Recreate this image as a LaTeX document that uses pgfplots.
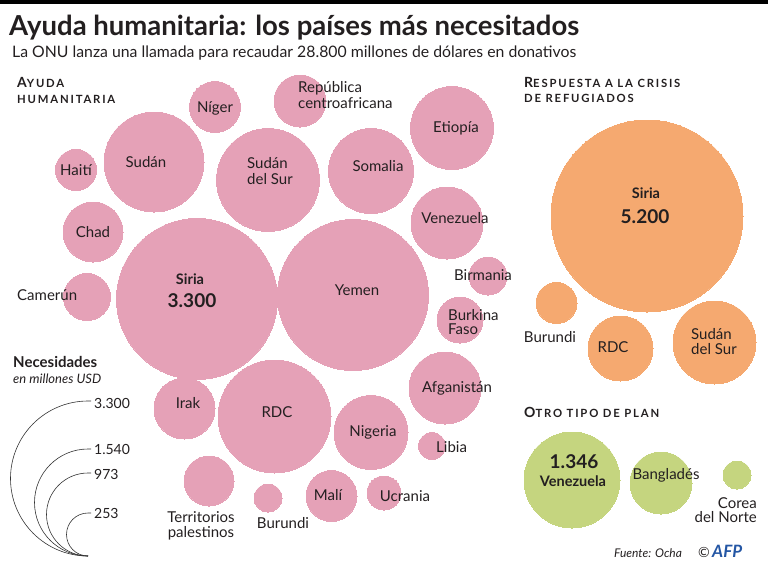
\documentclass[border=0pt]{standalone}
\usepackage{pgfplots}
\pgfplotsset{compat=1.18}
\usepackage{pgfplotstable}
\usepackage{fontspec}
\setmainfont{Lato}
\definecolor{pinkc}{HTML}{E5A1B7}
\definecolor{orangec}{HTML}{F5A970}
\definecolor{greenc}{HTML}{C5D57F}
\definecolor{txt}{HTML}{231F20}
\definecolor{afpblue}{HTML}{2456A4}

\pgfplotstableread{
x y r
215 107 25.5
76 170 20.5
154 162 50
93 232 30
87 297 23.5
197 299 80.5
268 180 51.5
300 101 26
371 171 42.5
452 128 41.5
447 223 36
353 295 75.5
488 276 19
460 320 23
445 388 36
184.5 408.5 30.5
274.5 416.5 56.5
371 432.5 37
432 446 13.5
209 481 25
268 498 14
331.5 496 25.5
384 493 17
}\ayuda
\pgfplotstableread{
x y r
647 216 96
556.5 303 20.5
620.5 348.5 32.5
714.5 342.5 41.5
}\refugiados
\pgfplotstableread{
x y r
572 480 48
661 483 31
737 475 14
}\otro

\newcommand{\hdr}[2]{{\bfseries\addfontfeatures{LetterSpace=16}\fontsize{14}{14}\selectfont #1\fontsize{11.3}{14}\selectfont #2}}

\tikzset{
  lb/.style={inner sep=0pt, text=txt, font=\fontsize{15}{16}\selectfont, text height=10.5pt, text depth=0pt},
  lbb/.style={inner sep=0pt, text=txt, font=\bfseries\fontsize{14.5}{16}\selectfont, text height=10.5pt, text depth=0pt},
  num/.style={inner sep=0pt, text=txt, font=\bfseries\fontsize{19}{20}\selectfont, text height=13.5pt, text depth=0pt},
  tx/.style={inner sep=0pt, text=txt},
}
\pgfplotsset{
  canvas/.style={
    scale only axis, width=768pt, height=565pt,
    xmin=0, xmax=768, ymin=0, ymax=565, y dir=reverse,
    hide axis, clip=false, at={(0,0)}, anchor=south west},
  bubble/.style={scatter, only marks, mark=*,
    mark options={draw=#1, fill=#1, line width=0pt},
    scatter/use mapped color={draw=#1, fill=#1},
    visualization depends on={\thisrow{r} \as \rr},
    scatter/@pre marker code/.append style={/tikz/mark size=\rr}},
}

\begin{document}
\begin{tikzpicture}
\begin{axis}[canvas]
\path (rel axis cs:0,0) rectangle (rel axis cs:1,1);
\addplot[bubble=pinkc] table[x=x,y=y] {\ayuda};
\addplot[bubble=orangec] table[x=x,y=y] {\refugiados};
\addplot[bubble=greenc] table[x=x,y=y] {\otro};
\end{axis}
\begin{axis}[canvas]
\fill[black] (axis cs:0,0) rectangle (axis cs:768,4);

% title
\node[tx, anchor=base west, font=\bfseries\fontsize{27.5}{28}\selectfont] at (axis cs:9,35) {Ayuda humanitaria: los países más necesitados};
\node[tx, anchor=base west, font=\fontsize{15.8}{16}\selectfont] at (axis cs:12,57) {La ONU lanza una llamada para recaudar 28.800 millones de dólares en donativos};

% headers
\node[tx, anchor=base west] at (axis cs:17,87) {\hdr{A}{YUDA}};
\node[tx, anchor=base west] at (axis cs:17,103) {\hdr{}{HUMANITARIA}};
\node[tx, anchor=base west] at (axis cs:524,87) {\hdr{R}{ESPUESTA A LA CRISIS}};
\node[tx, anchor=base west] at (axis cs:524,102) {\hdr{}{DE REFUGIADOS}};
\node[tx, anchor=base west] at (axis cs:524,417) {\hdr{O}{TRO TIPO DE PLAN}};

% pink labels
\node[lb] at (axis cs:215,107) {Níger};
\node[lb] at (axis cs:76,170) {Haití};
\node[lb] at (axis cs:146,162) {Sudán};
\node[lb] at (axis cs:93,232) {Chad};
\node[lb, anchor=west] at (axis cs:17,295) {Camerún};
\node[lbb] at (axis cs:190,279) {Siria};
\node[num] at (axis cs:192,301) {3.300};
\node[lb, anchor=west] at (axis cs:247,163) {Sudán};
\node[lb, anchor=west] at (axis cs:247,179) {del Sur};
\node[lb, anchor=west] at (axis cs:298,87) {República};
\node[lb, anchor=west] at (axis cs:298,103) {centroafricana};
\node[lb] at (axis cs:378,166) {Somalia};
\node[lb] at (axis cs:456,127) {Etiopía};
\node[lb] at (axis cs:455,218) {Venezuela};
\node[lb] at (axis cs:357,290) {Yemen};
\node[lb] at (axis cs:483,275) {Birmania};
\node[lb, anchor=west] at (axis cs:448,315) {Burkina};
\node[lb, anchor=west] at (axis cs:448,329) {Faso};
\node[lb] at (axis cs:457,387) {Afganistán};
\node[lb] at (axis cs:188,403) {Irak};
\node[lb] at (axis cs:277,412) {RDC};
\node[lb] at (axis cs:373,431) {Nigeria};
\node[lb, anchor=west] at (axis cs:436,447) {Libia};
\node[lb] at (axis cs:201,517) {Territorios};
\node[lb] at (axis cs:201,532) {palestinos};
\node[lb] at (axis cs:283,523) {Burundi};
\node[lb] at (axis cs:328,495) {Malí};
\node[lb] at (axis cs:405,496) {Ucrania};

% orange labels
\node[lbb] at (axis cs:646,193) {Siria};
\node[num] at (axis cs:645,217) {5.200};
\node[lb] at (axis cs:550,337) {Burundi};
\node[lb] at (axis cs:613,347) {RDC};
\node[lb, anchor=west] at (axis cs:691,334) {Sudán};
\node[lb, anchor=west] at (axis cs:691,349) {del Sur};

% green labels
\node[num] at (axis cs:574,462) {1.346};
\node[lbb] at (axis cs:573,481) {Venezuela};
\node[lb] at (axis cs:666,474) {Bangladés};
\node[lb, anchor=east] at (axis cs:757,503) {Corea};
\node[lb, anchor=east] at (axis cs:757,517) {del Norte};

% size legend
\node[tx, anchor=base west, font=\bfseries\fontsize{15}{16}\selectfont] at (axis cs:13,367) {Necesidades};
\node[tx, anchor=base west, font=\itshape\fontsize{13}{14}\selectfont] at (axis cs:13,383) {en millones USD};
\draw[black!80, line width=0.6pt] (axis cs:88,556) arc[start angle=270, end angle=90, radius=77.5pt] -- ++(3pt,0);
\draw[black!80, line width=0.6pt] (axis cs:88,556) arc[start angle=270, end angle=90, radius=53.5pt] -- ++(3pt,0);
\draw[black!80, line width=0.6pt] (axis cs:88,556) arc[start angle=270, end angle=90, radius=41.5pt] -- ++(3pt,0);
\draw[black!80, line width=0.6pt] (axis cs:88,556) arc[start angle=270, end angle=90, radius=21.5pt] -- ++(3pt,0);
\node[lb, anchor=west, font=\fontsize{14}{16}\selectfont] at (axis cs:94,403) {3.300};
\node[lb, anchor=west, font=\fontsize{14}{16}\selectfont] at (axis cs:94,449) {1.540};
\node[lb, anchor=west, font=\fontsize{14}{16}\selectfont] at (axis cs:94,474) {973};
\node[lb, anchor=west, font=\fontsize{14}{16}\selectfont] at (axis cs:94,513) {253};

% source
\node[tx, anchor=base west, font=\itshape\fontsize{12}{13}\selectfont] at (axis cs:614,557) {Fuente: Ocha};
\node[tx, anchor=base west, font=\fontsize{14}{14}\selectfont] at (axis cs:698,557) {©};
\node[anchor=base west, inner sep=0pt, text=afpblue, font=\bfseries\itshape\fontsize{17}{17}\selectfont] at (axis cs:712,557) {AFP};
\end{axis}
\end{tikzpicture}
\end{document}
